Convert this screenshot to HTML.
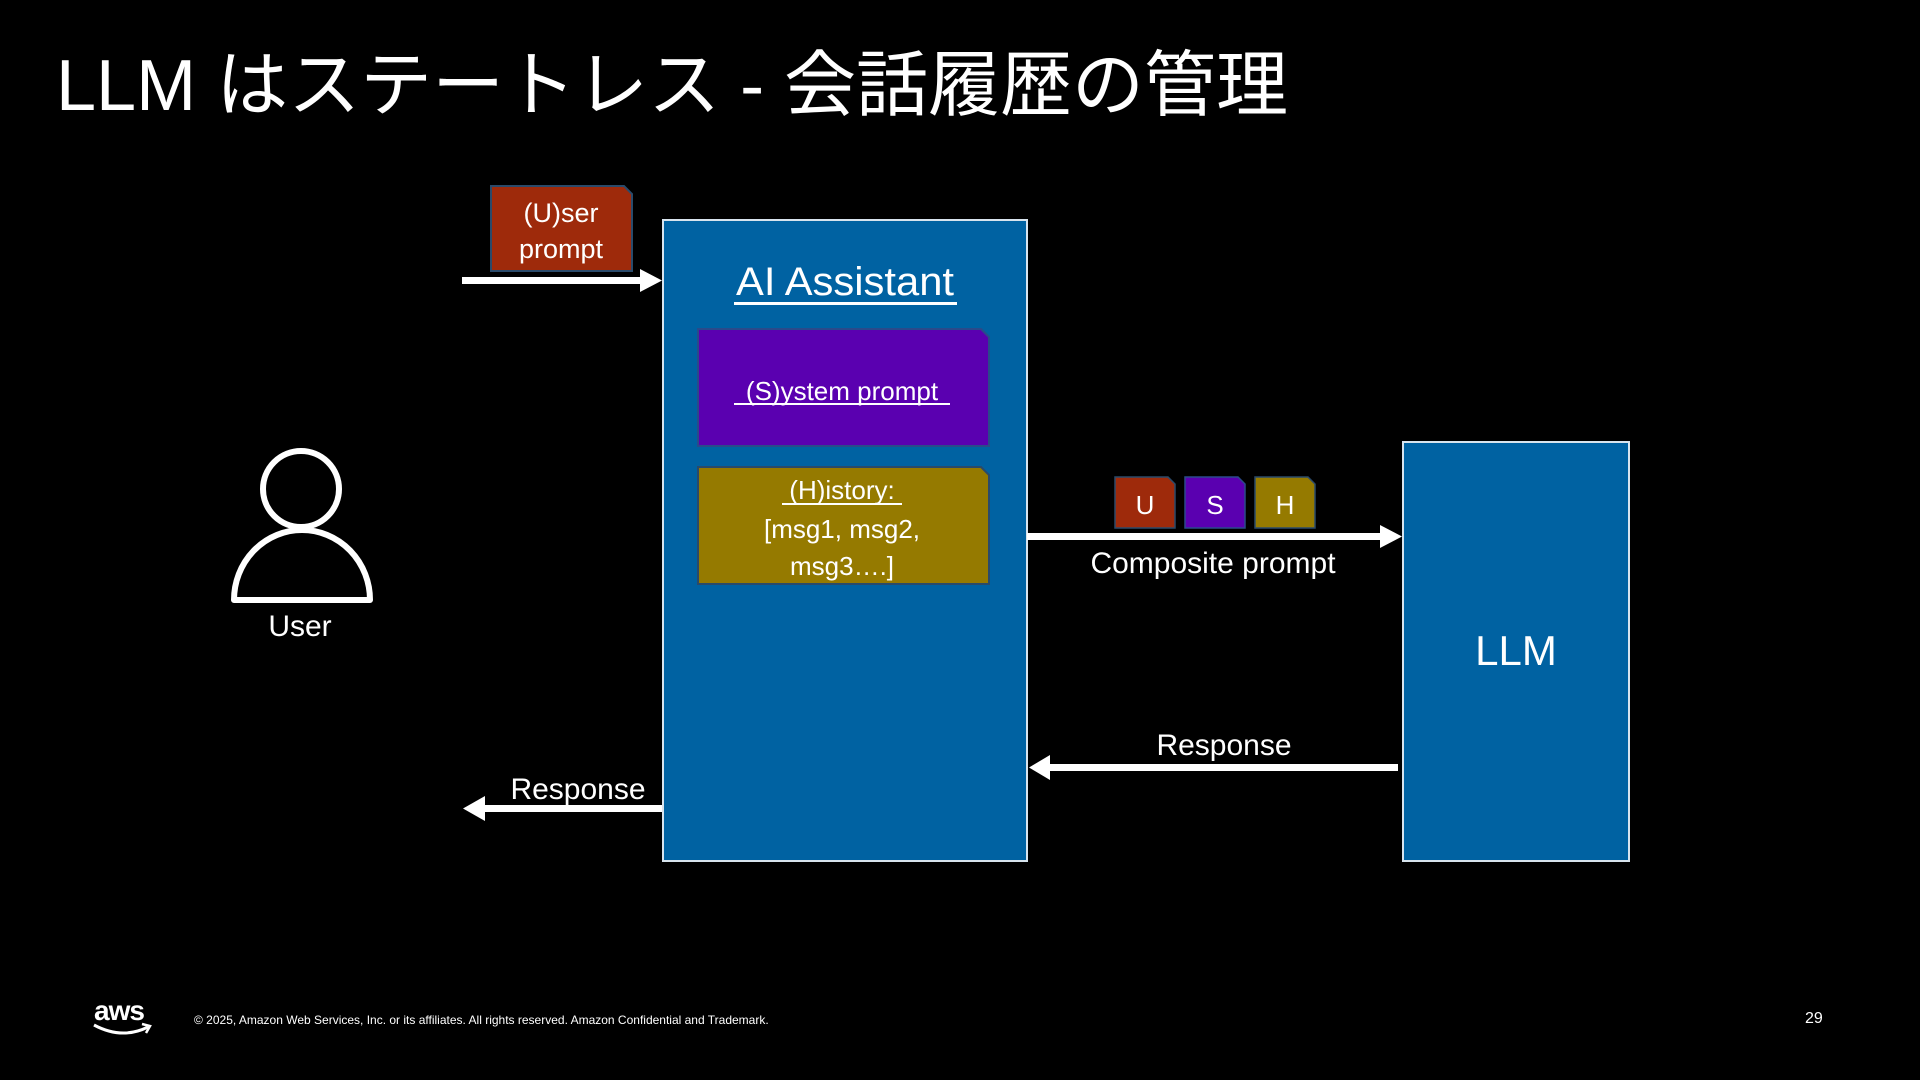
<!DOCTYPE html>
<html><head><meta charset="utf-8"><style>
html,body{margin:0;padding:0;background:#000;}
svg{display:block}
text{font-family:"Liberation Sans","Noto Sans CJK JP",sans-serif;fill:#fff}
</style></head><body>
<svg width="1920" height="1080" viewBox="0 0 1920 1080" xmlns="http://www.w3.org/2000/svg">
<rect width="1920" height="1080" fill="#000"/>
<text x="56" y="110" font-size="72">LLM はステートレス - 会話履歴の管理</text>

<!-- User prompt -->
<path d="M491,186 H624 L632,194 V271 H491 Z" fill="#9e2a0b" stroke="#2a4a6a" stroke-width="2"/>
<text x="561" y="222" font-size="27" text-anchor="middle">(U)ser</text>
<text x="561" y="258" font-size="27" text-anchor="middle">prompt</text>
<rect x="462" y="277" width="180" height="7" fill="#fff"/>
<polygon points="640,269 662,280.5 640,292" fill="#fff"/>

<!-- AI Assistant -->
<rect x="663" y="220" width="364" height="641" fill="#0062a2" stroke="#d8e4ee" stroke-width="2"/>
<text x="845" y="295" font-size="40" text-anchor="middle" textLength="218" lengthAdjust="spacingAndGlyphs">AI Assistant</text>
<rect x="734" y="302" width="223" height="3" fill="#fff"/>
<path d="M698,329 H981 L989,337 V446 H698 Z" fill="#5a00b0" stroke="#2a4a8a" stroke-width="2"/>
<text x="842" y="400" font-size="26" text-anchor="middle">(S)ystem prompt</text>
<rect x="734" y="403" width="216" height="2" fill="#fff"/>
<path d="M698,467 H981 L989,475 V584 H698 Z" fill="#957a00" stroke="#2a4a6a" stroke-width="2"/>
<text x="842" y="499" font-size="26" text-anchor="middle">(H)istory:</text>
<rect x="782" y="503" width="120" height="2" fill="#fff"/>
<text x="842" y="538" font-size="26" text-anchor="middle">[msg1, msg2,</text>
<text x="842" y="575" font-size="26" text-anchor="middle">msg3….]</text>

<!-- USH -->
<path d="M1115,477 H1168 L1175,484 V528 H1115 Z" fill="#9e2a0b" stroke="#2a4a6a" stroke-width="1.5"/>
<text x="1145" y="514" font-size="26" text-anchor="middle">U</text>
<path d="M1185,477 H1238 L1245,484 V528 H1185 Z" fill="#5a00b0" stroke="#2a4a8a" stroke-width="1.5"/>
<text x="1215" y="514" font-size="26" text-anchor="middle">S</text>
<path d="M1255,477 H1308 L1315,484 V528 H1255 Z" fill="#957a00" stroke="#2a4a6a" stroke-width="1.5"/>
<text x="1285" y="514" font-size="26" text-anchor="middle">H</text>
<rect x="1027" y="533" width="356" height="7" fill="#fff"/>
<polygon points="1380,525 1402,536.5 1380,548" fill="#fff"/>
<text x="1213" y="573" font-size="30" text-anchor="middle">Composite prompt</text>

<!-- LLM -->
<rect x="1403" y="442" width="226" height="419" fill="#0062a2" stroke="#d8e4ee" stroke-width="2"/>
<text x="1516" y="665" font-size="42" text-anchor="middle">LLM</text>

<rect x="1048" y="764" width="350" height="7" fill="#fff"/>
<polygon points="1050,755 1029,767.5 1050,780" fill="#fff"/>
<text x="1224" y="755" font-size="30" text-anchor="middle">Response</text>

<rect x="482" y="805" width="180" height="7" fill="#fff"/>
<polygon points="485,796 463,808.5 485,821" fill="#fff"/>
<text x="578" y="799" font-size="30" text-anchor="middle">Response</text>

<!-- User icon -->
<circle cx="301" cy="489" r="38" fill="none" stroke="#fff" stroke-width="6"/>
<path d="M234,600 A68,70 0 0 1 370,600 Z" fill="none" stroke="#fff" stroke-width="6" stroke-linejoin="round"/>
<text x="300" y="636" font-size="30" text-anchor="middle">User</text>

<!-- footer -->
<text x="94" y="1020" font-size="28" font-weight="bold" letter-spacing="-1">aws</text>
<path d="M94,1025 Q122,1040 148,1027" fill="none" stroke="#fff" stroke-width="3"/>
<path d="M142,1024 L150,1026 L146,1033" fill="none" stroke="#fff" stroke-width="2.5"/>
<text x="194" y="1024" font-size="12">© 2025, Amazon Web Services, Inc. or its affiliates. All rights reserved. Amazon Confidential and Trademark.</text>
<text x="1805" y="1023" font-size="16">29</text>
</svg>
</body></html>
